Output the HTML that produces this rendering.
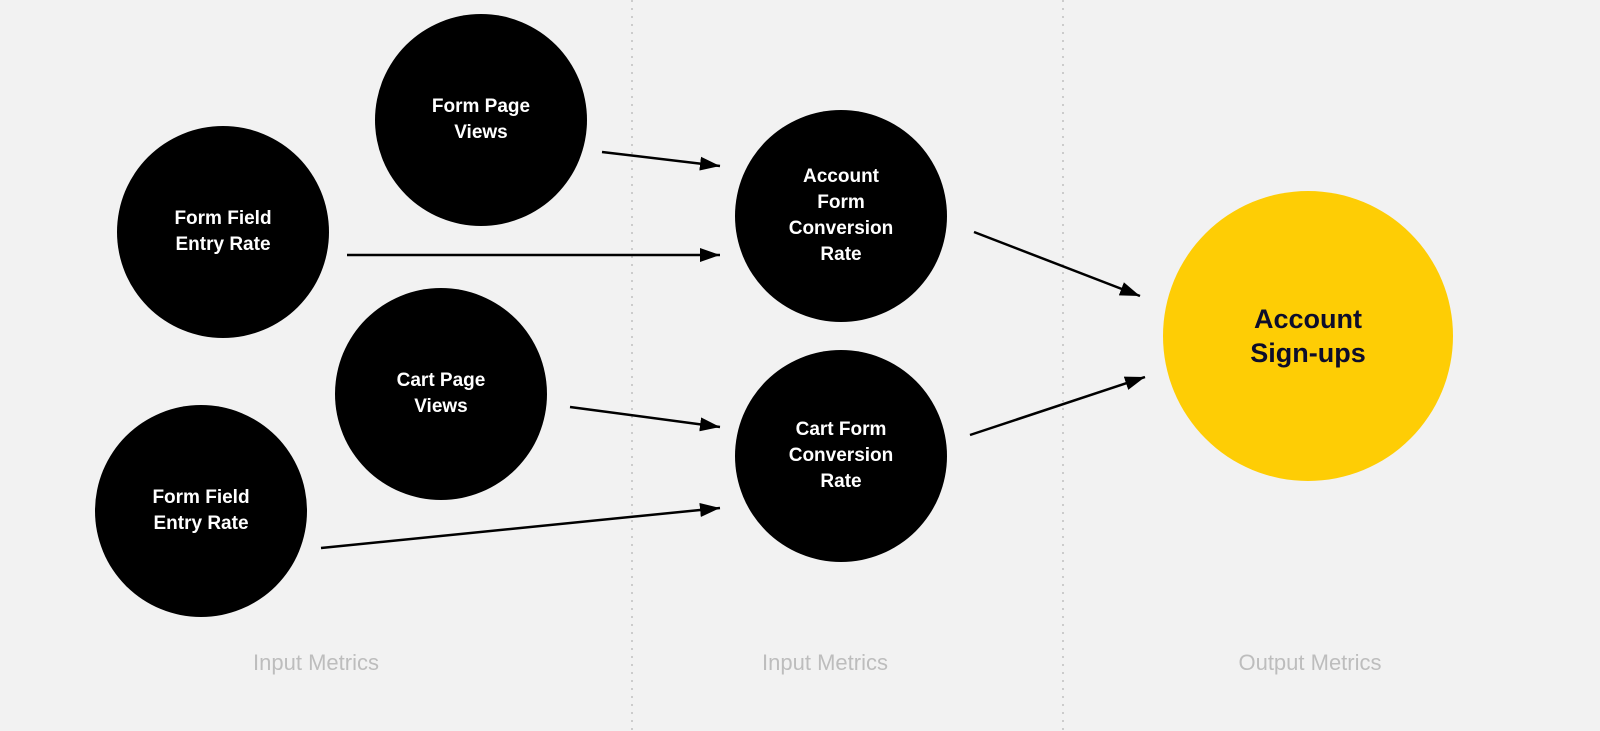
<!DOCTYPE html>
<html><head><style>
html,body{margin:0;padding:0;background:#f2f2f2;}
body{width:1600px;height:731px;position:relative;overflow:hidden;font-family:"Liberation Sans",Arial,sans-serif;}
.c{position:absolute;border-radius:50%;background:#000;color:#fff;font-weight:bold;font-size:19px;line-height:26px;display:flex;align-items:center;justify-content:center;text-align:center;}
.l{position:absolute;top:650px;font-size:22px;color:#bdbdbd;width:300px;text-align:center;}
</style></head><body>
<svg width="1600" height="731" style="position:absolute;left:0;top:0">
<defs><marker id="a" markerWidth="10" markerHeight="8" refX="9" refY="4" orient="auto" markerUnits="userSpaceOnUse"><path d="M0,0 L20,4 L0,8 z" transform="scale(0.5,1)"/></marker>
<marker id="b" viewBox="0 0 20 14" refX="20" refY="7" markerWidth="20" markerHeight="14" orient="auto" markerUnits="userSpaceOnUse"><path d="M0,0 L20,7 L0,14 z" fill="#000"/></marker></defs>
<line x1="632" y1="0" x2="632" y2="731" stroke="#ccc" stroke-width="2" stroke-dasharray="2,6"/>
<line x1="1063" y1="0" x2="1063" y2="731" stroke="#ccc" stroke-width="2" stroke-dasharray="2,6"/>
<g stroke="#000" stroke-width="2.5" marker-end="url(#b)">
<line x1="602" y1="152" x2="720" y2="166"/>
<line x1="347" y1="255" x2="720" y2="255"/>
<line x1="570" y1="407" x2="720" y2="427"/>
<line x1="321" y1="548" x2="720" y2="508"/>
<line x1="974" y1="232" x2="1140" y2="296"/>
<line x1="970" y1="435" x2="1145" y2="377"/>
</g>
</svg>
<div class="c" style="left:375px;top:14px;width:212px;height:212px">Form Page<br>Views</div>
<div class="c" style="left:117px;top:126px;width:212px;height:212px">Form Field<br>Entry Rate</div>
<div class="c" style="left:335px;top:288px;width:212px;height:212px">Cart Page<br>Views</div>
<div class="c" style="left:95px;top:405px;width:212px;height:212px">Form Field<br>Entry Rate</div>
<div class="c" style="left:735px;top:110px;width:212px;height:212px">Account<br>Form<br>Conversion<br>Rate</div>
<div class="c" style="left:735px;top:350px;width:212px;height:212px">Cart Form<br>Conversion<br>Rate</div>
<div class="c" style="left:1163px;top:191px;width:290px;height:290px;background:#fecd05;color:#0d0d2b;font-size:27px;line-height:34px">Account<br>Sign-ups</div>
<div class="l" style="left:166px">Input Metrics</div>
<div class="l" style="left:675px">Input Metrics</div>
<div class="l" style="left:1160px">Output Metrics</div>
</body></html>
